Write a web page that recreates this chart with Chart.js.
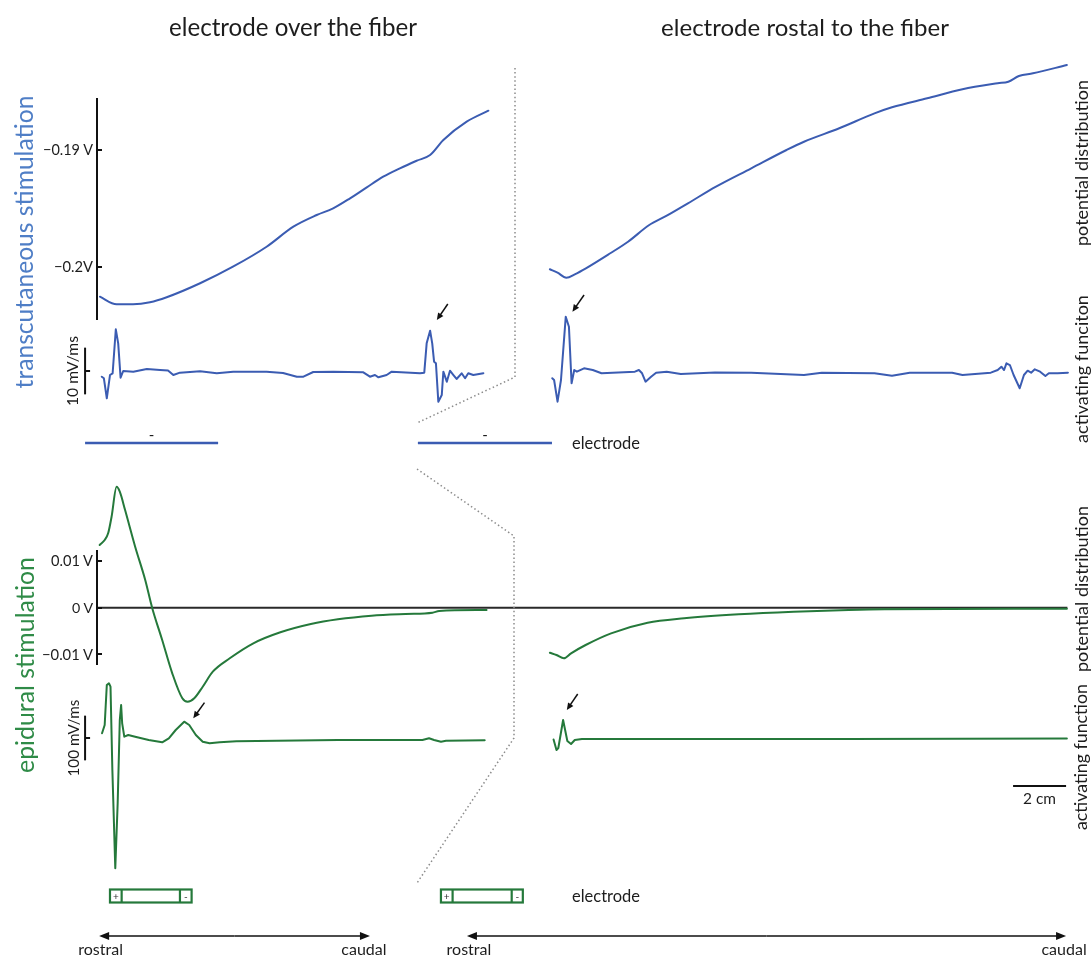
<!DOCTYPE html>
<html><head><meta charset="utf-8">
<script src="https://cdn.jsdelivr.net/npm/chart.js@4.4.1/dist/chart.umd.min.js"></script>
<style>
html,body{margin:0;padding:0;background:#fff;}
#fig{position:relative;width:1092px;height:958px;overflow:hidden;font-family:Lato,'Open Sans',sans-serif;}
#c{position:absolute;left:0;top:0;}
.t{position:absolute;white-space:nowrap;line-height:1;color:#1d1d1d;}
</style></head><body>
<div id="fig"><canvas id="c" width="1092" height="958"></canvas></div>
<script>
// ---------------- DATA (position along fiber in cm, potential in V, activating function in mV/ms) -------------
const tcOverX = [0.11,0.74,1.36,2.00,2.63,3.89,5.13,6.40,7.41,8.29,8.91,9.55,10.18,10.80,11.43,12.06,12.57,13.07,13.95,14.77];
const tcOverPotential = [-0.20257,-0.20322,-0.20322,-0.20305,-0.20262,-0.20142,-0.20000,-0.19829,-0.19657,-0.19557,-0.19500,-0.19414,-0.19320,-0.19229,-0.19157,-0.19092,-0.19043,-0.18914,-0.18757,-0.18663];

const tcOverActX = [0.18,0.26,0.37,0.49,0.59,0.71,0.80,0.89,0.99,1.37,1.88,2.38,2.68,2.88,3.13,3.89,4.52,5.14,6.40,7.02,7.54,7.79,8.16,8.92,10.05,10.30,10.49,10.62,10.93,11.12,12.19,12.35,12.44,12.57,12.65,12.72,12.79,12.88,13.01,13.07,13.20,13.32,13.45,13.57,13.76,13.89,14.01,14.20,14.58];
const tcOverActivating = [-1.22,-1.56,-5.85,-0.86,-0.49,8.93,5.93,-1.43,0,-0.15,0.43,0.21,0.11,-0.86,-0.36,-0.06,-0.49,-0.15,-0.15,-0.43,-1.22,-1.22,-0.21,-0.15,-0.28,-1.22,-0.86,-1.35,-0.86,-0.15,-0.49,-0.36,5.93,8.63,5.93,1.99,1.65,-6.57,-5.14,-0.15,-2.29,0.06,-0.86,-1.71,-0.49,-1.56,-0.49,-0.86,-0.49];

const tcRostralX = [0.07,0.36,0.69,1.03,1.43,2.35,3.02,3.82,4.48,5.28,6.34,7.67,9.00,9.66,10.99,12.32,12.98,14.31,15.64,16.97,17.37,17.77,18.30,19.58];
const tcRostralPotential = [-0.20022,-0.20051,-0.20094,-0.20063,-0.20014,-0.19885,-0.19786,-0.19643,-0.19563,-0.19457,-0.19314,-0.19157,-0.19000,-0.18929,-0.18814,-0.18686,-0.18634,-0.18557,-0.18480,-0.18428,-0.18415,-0.18366,-0.18343,-0.18272];

const tcRostralActX = [0.16,0.23,0.36,0.49,0.67,0.79,0.89,0.99,1.09,1.36,1.69,2.02,3.28,3.43,3.55,3.68,3.89,4.08,4.48,5.01,6.30,7.67,9.66,10.33,12.32,12.98,13.65,15.25,15.64,16.71,16.97,17.11,17.21,17.30,17.43,17.57,17.80,17.96,18.10,18.23,18.37,18.57,18.77,18.90,19.23,19.62];
const tcRostralActivating = [-1.56,-1.93,-6.57,-1.93,11.63,9.48,-2.63,0.21,-0.15,0.58,0.21,-0.49,-0.15,0.21,-0.49,-2.29,-1.22,-0.36,-0.15,-0.64,-0.30,-0.36,-0.86,-0.36,-0.49,-1.01,-0.36,-0.36,-0.86,-0.36,0.21,0.92,0.21,1.65,1.28,-0.86,-3.70,-0.86,0.06,-0.36,0.36,-0.15,-1.07,-0.49,-0.49,-0.36];

const epOverX = [0.10,0.29,0.42,0.55,0.74,0.86,1.06,1.44,1.82,2.08,2.46,2.84,3.22,3.42,3.67,3.99,4.37,5.01,5.90,6.92,8.07,9.09,10.36,11.64,12.66,12.91,14.70];
const epOverPotential = [0.01348,0.01456,0.01600,0.01957,0.02600,0.02495,0.02100,0.01312,0.00596,0,-0.00695,-0.01411,-0.01948,-0.02022,-0.01948,-0.01699,-0.01376,-0.01088,-0.00766,-0.00529,-0.00351,-0.00249,-0.00172,-0.00135,-0.00108,-0.00071,-0.00049];

const epOverActX = [0.19,0.29,0.37,0.45,0.51,0.58,0.69,0.78,0.86,0.91,0.95,1.03,1.18,1.44,1.95,2.46,2.71,2.97,3.29,3.48,3.73,3.99,4.25,4.63,5.26,9.09,12.28,12.53,12.72,12.98,13.17,14.63];
const epOverActivating = [10.5,29.1,118.6,122.4,114.8,-71.6,-291.5,-146.1,40.3,73.8,32.9,2.9,6.7,2.9,-4.5,-9.6,-0.7,17.9,36.5,29.1,6.7,-8.3,-11.9,-9.6,-7.4,-4.5,-4.5,-0.7,-4.5,-8.3,-6.0,-5.1];

const epRostralX = [0.07,0.32,0.60,0.87,1.42,2.38,3.76,5.14,7.20,9.27,11.34,12.71,19.58];
const epRostralPotential = [-0.00968,-0.01017,-0.01088,-0.00981,-0.00802,-0.00551,-0.00323,-0.00228,-0.00142,-0.00086,-0.00049,-0.00034,-0.00022];

const epRostralActX = [0.21,0.32,0.39,0.57,0.73,0.87,1.01,1.28,3.76,11.34,19.58];
const epRostralActivating = [-3.4,-26.8,-22.4,40.3,-6.7,-13.4,-4.5,-2.2,-2.2,-2.2,-1.1];

// tick values / labels
const tcTicks = [-0.19, -0.2];
const tcTickLabels = ['\u22120.19 V', '\u22120.2V'];
const tcAxisExtent = [-0.20457, -0.18554];
const epTicks = [0.01, 0, -0.01];
const epTickLabels = ['0.01 V', '0 V', '\u22120.01 V'];
const epAxisExtent = [-0.01232, 0.01241];
const tcActBar = 10;     // mV/ms
const epActBar = 100;    // mV/ms
const lengthBar = 2;     // cm

// electrodes (cm along fiber)
const tcElectrodeOver = [-0.45, 4.57];
const tcElectrodeRostral = [-4.91, 0.15];
const epElectrodeOver = [0.49, 0.93, 3.13, 3.57];
const epElectrodeRostral = [-4.04, -3.60, -1.37, -0.95];
const rostroCaudalOver = [0.08, 10.30];
const rostroCaudalRostral = [-3.06, 19.55];

// ---------------- LAYOUT ----------------
const W = 1092, H = 958;
const BLUE = '#3b5cb2', GREEN = '#25793b';
function yRange(v1,p1,v2,p2){ const s=(v1-v2)/(p2-p1); return {min:v1-(H-p1)*s, max:v1+p1*s}; }
function xRange(v1,p1,v2,p2){ const s=(v2-v1)/(p2-p1); return {min:v1-p1*s, max:v1+(W-p1)*s}; }
const L = {
  xL: xRange(0, 97, 1, 123.5),
  xR: xRange(0, 548, 1, 574.5),
  yTV: yRange(-0.19, 150, -0.2, 266.7),
  yTA: yRange(0, 371, 10, 324.3),
  yEV: yRange(0, 607.7, 0.01, 561.2),
  yEA: yRange(0, 738, 100, 693.3),
  barX: -0.45, tcElectrodeY: 443, epElectrodeY: 896, epBoxH: 13, arrowY: 936, lengthBarY: 786,
  dotted: [[[515,68],[515,377],[417,423]], [[417,469],[514,536],[514,738],[417,883]]]
};
const peakArrows = [
  {xs:'xL', ys:'yTA', at:[12.57, 8.63], head:[6.7,-10.7], tail:[17.7,-26.7]},
  {xs:'xR', ys:'yTA', at:[0.67, 11.63], head:[6.7,-5], tail:[18.3,-21.7]},
  {xs:'xL', ys:'yEA', at:[3.29, 36.5], head:[9.1,-3.4], tail:[20.3,-19]},
  {xs:'xR', ys:'yEA', at:[0.57, 40.3], head:[3.7,-10], tail:[14.6,-26]}
];

function ds(xs, ys, xa, ya, color, smooth){
  return {data: xs.map((x,i)=>({x:x, y:ys[i]})), xAxisID:xa, yAxisID:ya, borderColor:color,
    borderWidth:2, pointRadius:0, fill:false, tension:0, clip:false,
    cubicInterpolationMode: smooth ? 'monotone' : 'default', borderJoinStyle:'round', borderCapStyle:'round'};
}

function arrowTo(ctx, x1,y1,x2,y2, len, hw){
  const a=Math.atan2(y2-y1,x2-x1), c=Math.cos(a), s=Math.sin(a);
  ctx.beginPath(); ctx.moveTo(x1,y1); ctx.lineTo(x2-c*len*0.7, y2-s*len*0.7); ctx.stroke();
  ctx.beginPath(); ctx.moveTo(x2,y2);
  ctx.lineTo(x2-c*len+s*hw, y2-s*len-c*hw); ctx.lineTo(x2-c*len-s*hw, y2-s*len+c*hw); ctx.closePath(); ctx.fill();
}

const deco = {
  id:'deco',
  beforeDatasetsDraw(c){
    const ctx=c.ctx, s=c.scales;
    ctx.save(); ctx.strokeStyle='#2a2a2a'; ctx.lineWidth=2;
    const y=s.yEV.getPixelForValue(0);
    ctx.beginPath(); ctx.moveTo(s.xL.getPixelForValue(0), y); ctx.lineTo(s.xR.getPixelForValue(19.6), y); ctx.stroke();
    ctx.restore();
  },
  afterDatasetsDraw(c){
    const ctx=c.ctx, s=c.scales;
    ctx.save();
    ctx.strokeStyle='#111'; ctx.fillStyle='#111'; ctx.lineWidth=2; ctx.lineCap='butt';
    const ax = s.xL.getPixelForValue(0);
    // potential axes
    [[s.yTV, tcAxisExtent, tcTicks],[s.yEV, epAxisExtent, epTicks]].forEach(([sy,ext,tk])=>{
      ctx.beginPath(); ctx.moveTo(ax, sy.getPixelForValue(ext[1])); ctx.lineTo(ax, sy.getPixelForValue(ext[0])); ctx.stroke();
      tk.forEach(t=>{const y=Math.round(sy.getPixelForValue(t)); ctx.beginPath(); ctx.moveTo(ax,y); ctx.lineTo(ax+5,y); ctx.stroke();});
    });
    // activating-function scale bars
    const bx = s.xL.getPixelForValue(L.barX);
    [[s.yTA, tcActBar],[s.yEA, epActBar]].forEach(([sy,b])=>{
      ctx.beginPath(); ctx.moveTo(bx, sy.getPixelForValue(b/2)); ctx.lineTo(bx, sy.getPixelForValue(-b/2)); ctx.stroke();
      const y=sy.getPixelForValue(0); ctx.beginPath(); ctx.moveTo(bx,y); ctx.lineTo(bx+5,y); ctx.stroke();
    });
    // length scale bar
    ctx.beginPath(); ctx.moveTo(s.xR.getPixelForValue(19.55-lengthBar), L.lengthBarY); ctx.lineTo(s.xR.getPixelForValue(19.55), L.lengthBarY); ctx.stroke();
    // rostral-caudal arrows
    ctx.lineWidth=1.4;
    [[s.xL, rostroCaudalOver],[s.xR, rostroCaudalRostral]].forEach(([sx,r])=>{
      const a=sx.getPixelForValue(r[0]), b=sx.getPixelForValue(r[1]), y=L.arrowY, m=(a+b)/2;
      arrowTo(ctx, m, y, a, y, 10, 4); arrowTo(ctx, m, y, b, y, 10, 4);
    });
    // peak arrows
    ctx.lineWidth=1.5;
    peakArrows.forEach(p=>{
      const px=s[p.xs].getPixelForValue(p.at[0]), py=s[p.ys].getPixelForValue(p.at[1]);
      arrowTo(ctx, px+p.tail[0], py+p.tail[1], px+p.head[0], py+p.head[1], 7, 3.2);
    });
    // transcutaneous electrodes
    ctx.strokeStyle=BLUE; ctx.lineWidth=2.5;
    [[s.xL, tcElectrodeOver],[s.xR, tcElectrodeRostral]].forEach(([sx,e])=>{
      ctx.beginPath(); ctx.moveTo(sx.getPixelForValue(e[0]), L.tcElectrodeY); ctx.lineTo(sx.getPixelForValue(e[1]), L.tcElectrodeY); ctx.stroke();
    });
    // epidural electrodes
    ctx.strokeStyle=GREEN; ctx.lineWidth=2.2;
    [[s.xL, epElectrodeOver],[s.xR, epElectrodeRostral]].forEach(([sx,e])=>{
      const p=e.map(v=>sx.getPixelForValue(v)), y0=L.epElectrodeY-L.epBoxH/2, y1=L.epElectrodeY+L.epBoxH/2;
      ctx.strokeRect(p[0], y0, p[3]-p[0], L.epBoxH);
      [p[1],p[2]].forEach(x=>{ctx.beginPath(); ctx.moveTo(x,y0); ctx.lineTo(x,y1); ctx.stroke();});
    });
    // dotted zoom lines
    ctx.strokeStyle='#8c8c8c'; ctx.lineWidth=1.5; ctx.setLineDash([1.5,2.6]);
    L.dotted.forEach(path=>{ ctx.beginPath(); path.forEach((pt,i)=> i? ctx.lineTo(pt[0],pt[1]) : ctx.moveTo(pt[0],pt[1])); ctx.stroke(); });
    ctx.restore();
  }
};

const sc = (r)=>({type:'linear', display:false, min:r.min, max:r.max});
const chart = new Chart(document.getElementById('c'), {
  type:'line',
  data:{datasets:[
    ds(tcOverX, tcOverPotential, 'xL','yTV', BLUE, true),
    ds(tcOverActX, tcOverActivating, 'xL','yTA', BLUE, false),
    ds(tcRostralX, tcRostralPotential, 'xR','yTV', BLUE, true),
    ds(tcRostralActX, tcRostralActivating, 'xR','yTA', BLUE, false),
    ds(epOverX, epOverPotential, 'xL','yEV', GREEN, true),
    ds(epOverActX, epOverActivating, 'xL','yEA', GREEN, false),
    ds(epRostralX, epRostralPotential, 'xR','yEV', GREEN, true),
    ds(epRostralActX, epRostralActivating, 'xR','yEA', GREEN, false)
  ]},
  options:{
    responsive:false, animation:false, devicePixelRatio:1, events:[],
    layout:{padding:0},
    plugins:{legend:{display:false}, tooltip:{enabled:false}, title:{display:false}},
    scales:{
      xL:Object.assign(sc(L.xL),{axis:'x'}), xR:Object.assign(sc(L.xR),{axis:'x'}),
      yTV:Object.assign(sc(L.yTV),{axis:'y'}), yTA:Object.assign(sc(L.yTA),{axis:'y'}),
      yEV:Object.assign(sc(L.yEV),{axis:'y'}), yEA:Object.assign(sc(L.yEA),{axis:'y'})
    }
  },
  plugins:[deco]
});

// ---------------- TEXT (real HTML text) ----------------
const fig=document.getElementById('fig');
function label(txt, x, y, o){
  o=o||{};
  const el=document.createElement('div'); el.className='t'; el.textContent=txt;
  const base=o.size||16; el.style.fontSize=base+'px';
  if(o.color) el.style.color=o.color;
  fig.appendChild(el);
  if(o.width){ const w=el.getBoundingClientRect().width; el.style.fontSize=(base*o.width/w).toFixed(2)+'px'; }
  const tx = o.align==='right' ? '-100%' : (o.align==='left' ? '0' : '-50%');
  el.style.left=x+'px'; el.style.top=y+'px';
  el.style.transform='translate('+tx+',-50%)'+(o.rot?' rotate('+o.rot+'deg)':'');
  return el;
}
const S=chart.scales;
const axX=S.xL.getPixelForValue(0);
tcTicks.forEach((t,i)=>label(tcTickLabels[i], axX-4, S.yTV.getPixelForValue(t), {align:'right', size:14, width:[50,39][i]}));
epTicks.forEach((t,i)=>label(epTickLabels[i], axX-4, S.yEV.getPixelForValue(t), {align:'right', size:14, width:[42,21,51][i]}));
const barPx=S.xL.getPixelForValue(L.barX);
label(tcActBar+' mV/ms', barPx-12, S.yTA.getPixelForValue(0), {rot:-90, size:14, width:70});
label(epActBar+' mV/ms', barPx-11.5, S.yEA.getPixelForValue(0), {rot:-90, size:14, width:77});

label('electrode over the fiber', 293, 27, {size:22, width:248});
label('electrode rostal to the fiber', 805, 27, {size:22, width:288});
label('transcutaneous stimulation', 23.5, 241.5, {rot:-90, size:24, width:293, color:'#4f7ec6'});
label('epidural stimulation', 24, 665, {rot:-90, size:24, width:216, color:'#2f8b47'});
label('potential distribution', 1081, 163, {rot:-90, size:16, width:166});
label('activating funciton', 1081, 369, {rot:-90, size:16, width:148});
label('potential distribution', 1081, 589, {rot:-90, size:16, width:166});
label('activating function', 1081, 757, {rot:-90, size:16, width:146});
label('electrode', 572, L.tcElectrodeY, {align:'left', size:16, width:68});
label('electrode', 572, L.epElectrodeY, {align:'left', size:16, width:68});
[[S.xL,tcElectrodeOver],[S.xR,tcElectrodeRostral]].forEach(([sx,e])=>label('-', (sx.getPixelForValue(e[0])+sx.getPixelForValue(e[1]))/2, L.tcElectrodeY-9, {size:15}));
[[S.xL,epElectrodeOver],[S.xR,epElectrodeRostral]].forEach(([sx,e])=>{
  label('+', (sx.getPixelForValue(e[0])+sx.getPixelForValue(e[1]))/2, L.epElectrodeY, {size:10, color:'#333'});
  label('-', (sx.getPixelForValue(e[2])+sx.getPixelForValue(e[3]))/2, L.epElectrodeY, {size:10, color:'#333'});
});
label('2 cm', (S.xR.getPixelForValue(19.55-lengthBar)+S.xR.getPixelForValue(19.55))/2, L.lengthBarY+13, {size:14, width:33});
[[S.xL,rostroCaudalOver],[S.xR,rostroCaudalRostral]].forEach(([sx,r],i)=>{
  label('rostral', sx.getPixelForValue(r[0])+[1.5,2][i], 949, {size:16});
  label('caudal', sx.getPixelForValue(r[1])-[6,2][i], 949, {size:16});
});
</script>
</body></html>
